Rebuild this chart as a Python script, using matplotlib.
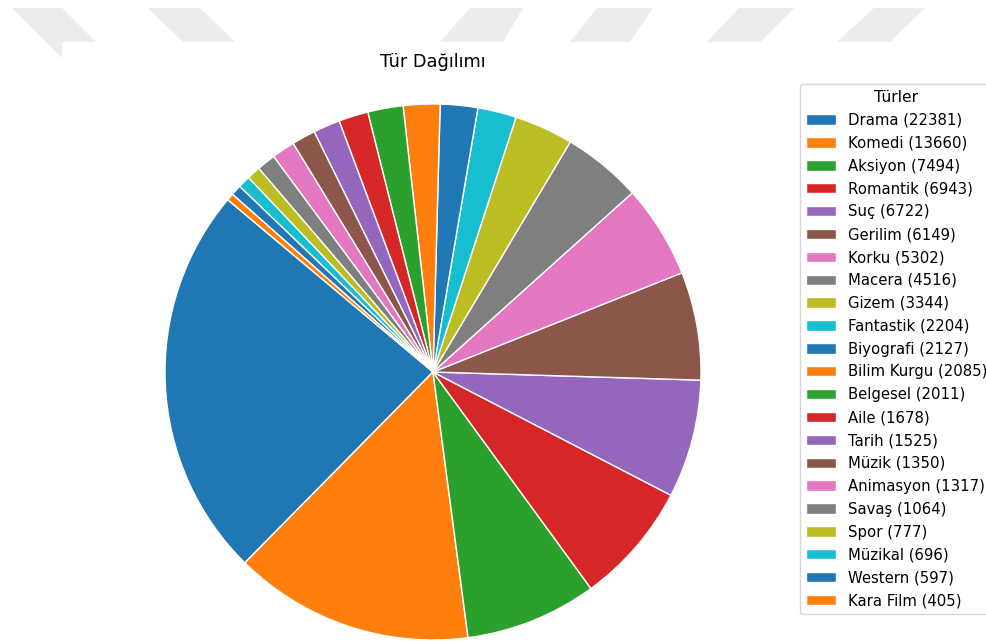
import matplotlib
matplotlib.use("Agg")
import matplotlib.pyplot as plt
from matplotlib.patches import Polygon, Rectangle

plt.rcParams["font.family"] = "DejaVu Sans"

# Veri: tür ve film sayıları
turler = ["Drama", "Komedi", "Aksiyon", "Romantik", "Suç", "Gerilim", "Korku",
          "Macera", "Gizem", "Fantastik", "Biyografi", "Bilim Kurgu", "Belgesel",
          "Aile", "Tarih", "Müzik", "Animasyon", "Savaş", "Spor", "Müzikal",
          "Western", "Kara Film"]
sayilar = [22381, 13660, 7494, 6943, 6722, 6149, 5302, 4516, 3344, 2204, 2127,
           2085, 2011, 1678, 1525, 1350, 1317, 1064, 777, 696, 597, 405]

W, H = 987, 641
fig = plt.figure(figsize=(W / 100, H / 100), dpi=100)

def px(x, y):
    return (x / W, 1 - y / H)

# arka plandaki gri filigran şekilleri (piksel)
filigran = [
    [(12, 8), (62, 8), (114, 60), (64, 60)],
    [(148, 8), (200, 8), (235, 42), (183, 42)],
    [(470, 8), (523, 8), (503, 42), (440, 42)],
    [(597, 8), (653, 8), (630, 42), (570, 42)],
    [(739, 8), (794, 8), (760, 42), (707, 42)],
    [(874, 8), (925, 8), (890, 42), (837, 42)],
]
for pts in filigran:
    fig.patches.append(Polygon([px(*p) for p in pts], closed=True,
                               transform=fig.transFigure, facecolor="#ececec",
                               edgecolor="none", zorder=0))
x0, y0 = px(62, 641)
fig.patches.append(Rectangle((x0, y0), 1 - x0, px(0, 42)[1] - y0,
                             transform=fig.transFigure, facecolor="white",
                             edgecolor="none", zorder=0.5))

# pasta grafiği
cx, cy, r = 433, 372, 268
half = 1.25 * r
ax = fig.add_axes([(cx - half) / W, (H - cy - half) / H, 2 * half / W, 2 * half / H])
ax.set_zorder(2)
ax.set_facecolor("none")
wedges, _ = ax.pie(sayilar, startangle=140,
                   wedgeprops=dict(edgecolor="white", linewidth=1))
ax.set_xlim(-1.25, 1.25)
ax.set_ylim(-1.25, 1.25)
ax.set_aspect("equal")
for w in wedges:
    w.set_clip_on(False)

fig.text(*px(433, 62), "Tür Dağılımı", ha="center", va="center", fontsize=12.8)

etiketler = [f"{t} ({s})" for t, s in zip(turler, sayilar)]
leg = fig.legend(wedges, etiketler, title="Türler", loc="upper left",
                 bbox_to_anchor=px(800, 84), fontsize=10.7, title_fontsize=11.2,
                 borderaxespad=0, labelspacing=0.53)
leg.set_zorder(3)

fig.savefig("out.png", dpi=100)
